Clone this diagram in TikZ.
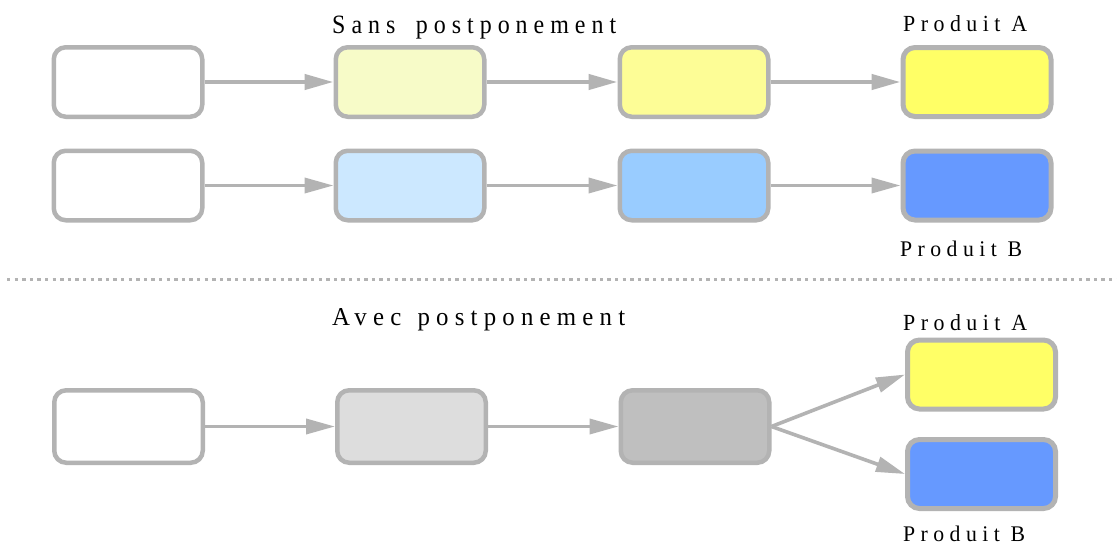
\documentclass[tikz,border=0pt]{standalone}
\usepackage{fontspec}
\usepackage{graphicx}
\setmainfont{Liberation Serif}
\newfontfamily\lblfont[LetterSpace=25]{Liberation Serif}
\usetikzlibrary{arrows.meta}
\definecolor{bordergray}{HTML}{B3B3B3}
\definecolor{yA}{HTML}{F7FBC8}
\definecolor{yB}{HTML}{FDFD96}
\definecolor{yC}{HTML}{FFFF66}
\definecolor{bA}{HTML}{CCE8FF}
\definecolor{bB}{HTML}{99CCFF}
\definecolor{bC}{HTML}{6699FF}
\definecolor{gA}{HTML}{DDDDDD}
\definecolor{gB}{HTML}{BFBFBF}
\newcommand\lbl[3]{\resizebox{#1}{#2}{\lblfont #3}}
\tikzset{
  stagebox/.style={draw=bordergray, line width=4.5pt, rounded corners=12pt,
    minimum width=148.5pt, minimum height=69.5pt, inner sep=0pt},
  prodbox/.style={stagebox, line width=5pt, minimum width=148pt, minimum height=69pt},
  flow/.style={draw=bordergray, line width=3.6pt,
    -{Triangle[length=29pt,width=15pt]}},
  caption/.style={anchor=base west, inner sep=0pt, text=black},
  separator/.style={draw=bordergray, line width=3pt, dash pattern=on 3.4pt off 4.2pt}
}
\begin{document}
\begin{tikzpicture}[x=1pt,y=-1pt]
\useasboundingbox (0,0) rectangle (1117,544);
\fill[white] (0,0) rectangle (1117,544);

% Row 1 : sans postponement, produit A
\node[stagebox, fill=white] (a1) at (128,82) {};
\node[stagebox, fill=yA] (a2) at (410,82) {};
\node[stagebox, fill=yB] (a3) at (694,82) {};
\node[prodbox, fill=yC] (a4) at (977,82) {};
\draw[flow, line width=4.3pt] (a1) -- (a2);
\draw[flow, line width=4.3pt] (a2) -- (a3);
\draw[flow, line width=4.3pt] (a3) -- (a4);

% Row 2 : sans postponement, produit B
\node[stagebox, fill=white] (b1) at (128,185.5) {};
\node[stagebox, fill=bA] (b2) at (410,185.5) {};
\node[stagebox, fill=bB] (b3) at (694,185.5) {};
\node[prodbox, fill=bC] (b4) at (977,185.5) {};
\draw[flow] (b1) -- (b2);
\draw[flow] (b2) -- (b3);
\draw[flow] (b3) -- (b4);

% separator
\coordinate (s1) at (7,279);
\coordinate (s2) at (1117,279);
\draw[separator] (s1) -- (s2);

% Row 3 : avec postponement
\node[stagebox, fill=white, minimum height=72.5pt] (c1) at (128.5,426.5) {};
\node[stagebox, fill=gA, minimum height=72.5pt] (c2) at (411.5,426.5) {};
\node[stagebox, fill=gB, minimum height=72.5pt] (c3) at (695,426.5) {};
\node[prodbox, fill=yC] (cA) at (981.5,374.5) {};
\node[prodbox, fill=bC] (cB) at (981.5,474) {};
\draw[flow] (c1) -- (c2);
\draw[flow] (c2) -- (c3);
\draw[flow] (c3.east) -- (cA.west);
\draw[flow] (c3.east) -- (cB.west);

% captions
\node[caption] (tSans) at (332,33) {\lbl{284pt}{17.5pt}{Sans \hspace{0.35em}postponement}};
\node[caption] (tA1) at (903,31) {\lbl{124pt}{16pt}{Produit A}};
\node[caption] (tB1) at (900,256) {\lbl{122pt}{15.5pt}{Produit B}};
\node[caption] (tAvec) at (332,325) {\lbl{293pt}{17pt}{Avec \hspace{0.15em}postponement}};
\node[caption] (tA2) at (903,330) {\lbl{124pt}{16pt}{Produit A}};
\node[caption] (tB2) at (903,541) {\lbl{122pt}{15.5pt}{Produit B}};
\end{tikzpicture}
\end{document}
